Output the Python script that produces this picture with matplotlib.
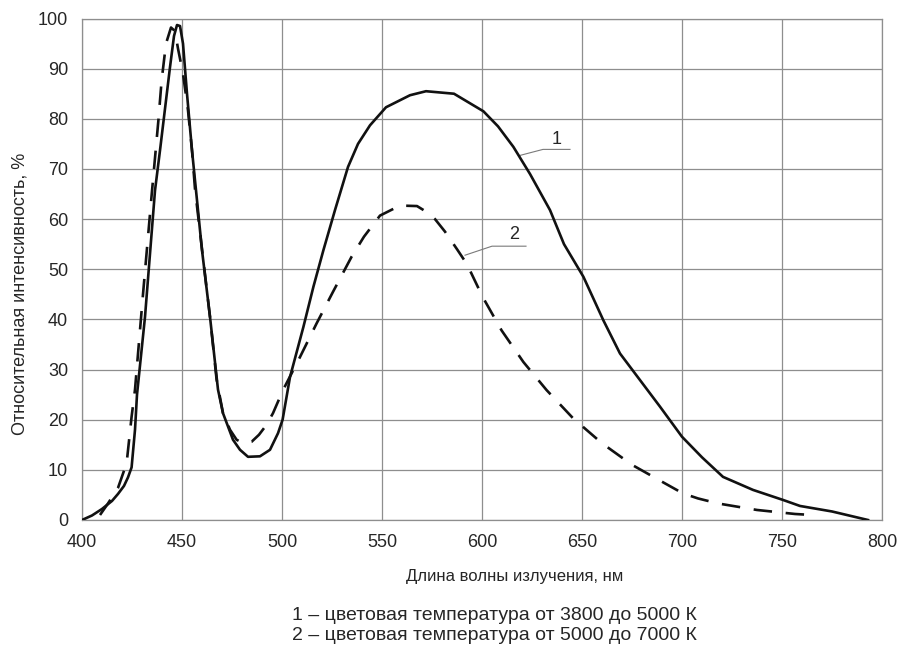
# ===== LIBRERÍAS =====
import matplotlib
matplotlib.use("Agg")
import matplotlib.pyplot as plt

plt.rcParams['font.family'] = ['Liberation Sans', 'DejaVu Sans']

# ===== DATOS =====
# кривая 1 (сплошная)
solid_x = [400, 405, 410, 415, 418, 421, 423, 424.8, 426.5, 427.5, 431.5, 436.5, 439,
           444, 446, 447.5, 449, 450.5, 452.5, 455, 460, 464, 468, 470.5, 475.5, 479,
           483, 489, 494, 498, 500.3, 504, 510.7, 515.7, 520.7, 526.5, 533, 538, 544,
           552, 564, 572, 586, 600.7, 608, 615.7, 624, 634, 641, 650.7, 660.7, 669, 679,
           689, 700, 710, 720.5, 735.5, 750.5, 759, 775, 793]
solid_y = [0, 0.9, 2.2, 3.8, 5.2, 6.8, 8.5, 10.5, 18, 25, 40.5, 65.7, 73.7,
           90.3, 96.5, 98.7, 98.5, 95, 85, 73.7, 53.8, 40.5, 26, 21.3, 16, 14,
           12.6, 12.7, 14, 17.3, 20, 28.5, 38.5, 46.5, 53.8, 61.8, 70.4, 75, 78.7,
           82.3, 84.7, 85.5, 85, 81.5, 78.5, 74.4, 69, 61.8, 55, 48.5, 39.8, 33.2, 27.9,
           22.6, 16.6, 12.5, 8.6, 6, 4, 2.8, 1.7, 0]

# кривая 2 (штриховая)
dashed_x = [409, 413, 418, 422.3, 424.8, 426.5, 430.5, 434.8, 438.2, 439.8, 442, 444.5,
            446.5, 448, 450.5, 453, 455, 456.5, 460, 464, 467.3, 470.5, 474, 477.3,
            480.7, 484.8, 488.5, 492.3, 495.5, 500.5, 509, 517.3, 525.5, 534.8, 541,
            549, 559, 567.5, 572, 576.5, 581.5, 587.5, 592.5, 600.3, 609.8, 620.7,
            632.3, 645.5, 660, 675, 691.5, 700.5, 708, 718, 737.5, 756.5, 765]
dashed_y = [1, 3.3, 6.4, 11.3, 20.6, 26, 45, 64.7, 79.7, 87.6, 95, 98.2,
            97.5, 94, 89, 81.7, 73.7, 66, 54, 40.5, 28, 21.3, 18, 16,
            15.3, 15.6, 17, 19, 21.3, 25.9, 32.5, 39.2, 45.5, 52.5, 56.5,
            60.7, 62.7, 62.6, 61.5, 60, 57.5, 54, 51, 44.5, 37.8, 31.5,
            25.9, 20.3, 15.3, 11, 7.3, 5.3, 4.3, 3.3, 2, 1.2, 1.0]

# выноски: точка на кривой -> излом -> конец полки
leader1_x = [619, 630.5, 644]
leader1_y = [72.7, 73.9, 73.9]
leader2_x = [591.5, 605, 622]
leader2_y = [52.8, 54.6, 54.6]

x_ticks = [400, 450, 500, 550, 600, 650, 700, 750, 800]
y_ticks = [0, 10, 20, 30, 40, 50, 60, 70, 80, 90, 100]

x_label = "Длина волны излучения, нм"
y_label = "Относительная интенсивность, %"
caption = ["1 – цветовая температура от 3800 до 5000 К",
           "2 – цветовая температура от 5000 до 7000 К"]

# ===== FIGURA =====
W, H = 901, 649
fig = plt.figure(figsize=(W / 100, H / 100), dpi=100)
ax = fig.add_axes([82 / W, 1 - 520 / H, 800 / W, 501.5 / H])

grid_col = '#8e8e8e'
text_col = '#262626'

ax.plot(solid_x, solid_y, color='#111111', lw=1.9, solid_joinstyle='round', zorder=3)
ax.plot(dashed_x, dashed_y, color='#111111', lw=1.9, dashes=(7, 5.2), zorder=3)

ax.plot(leader1_x, leader1_y, color='#7a7a7a', lw=0.8, zorder=2)
ax.plot(leader2_x, leader2_y, color='#7a7a7a', lw=0.8, zorder=2)
ax.text(637.5, 75.8, "1", fontsize=13, color=text_col, ha='center', va='center')
ax.text(616, 56.9, "2", fontsize=13, color=text_col, ha='center', va='center')

ax.set_xlim(400, 800)
ax.set_ylim(0, 100)
ax.set_xticks(x_ticks)
ax.set_yticks(y_ticks)
ax.tick_params(length=0, labelsize=13, labelcolor=text_col)
ax.tick_params(axis='y', pad=10)
ax.tick_params(axis='x', pad=10)
ax.grid(True, color=grid_col, lw=0.9)
ax.set_axisbelow(True)
for s in ax.spines.values():
    s.set_color(grid_col)
    s.set_linewidth(0.9)

# подписи
fig.text(515 / W, 1 - 576 / H, x_label, fontsize=12, color=text_col, ha='center', va='center')
fig.text(20 / W, 1 - 294 / H, y_label, fontsize=13, color=text_col, ha='center', va='center',
         rotation=90)
fig.text(494 / W, 1 - 616 / H, caption[0], fontsize=14, color=text_col, ha='center', va='center')
fig.text(494 / W, 1 - 636 / H, caption[1], fontsize=14, color=text_col, ha='center', va='center')

fig.savefig("out.png", dpi=100)
